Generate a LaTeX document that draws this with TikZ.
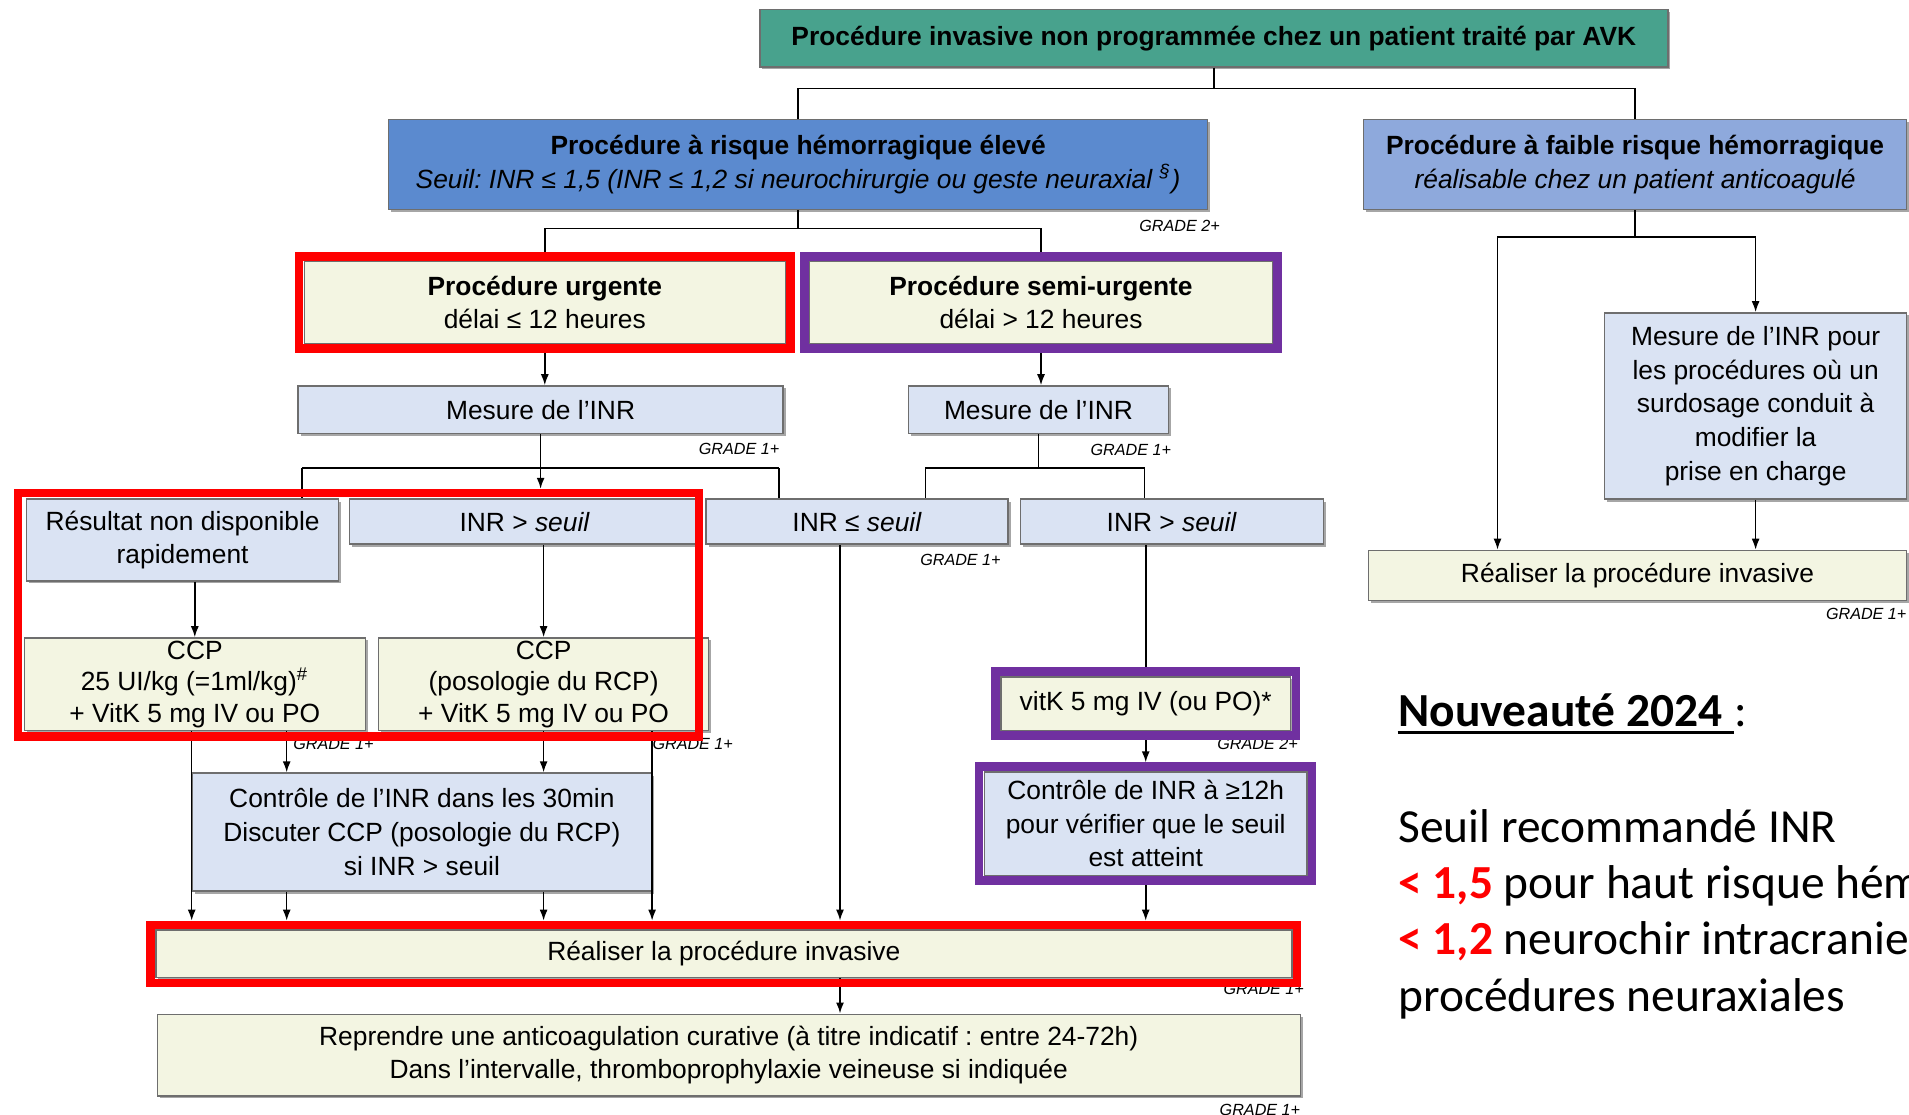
\documentclass[tikz,border=0pt]{standalone}
\usepackage{fontspec}
\setmainfont{Liberation Sans}
\newfontfamily\notefont{Carlito}
\usepackage{tikz}
\usetikzlibrary{fit,calc,positioning,arrows.meta,shadows}
\usepackage{color}
\frenchspacing
\definecolor{tealhead}{RGB}{72,162,141}
\definecolor{bluehigh}{RGB}{91,138,207}
\definecolor{bluelow}{RGB}{142,169,220}
\definecolor{creamfill}{RGB}{243,245,226}
\definecolor{palefill}{RGB}{218,227,243}
\definecolor{bordgray}{RGB}{110,110,110}
\definecolor{purpfr}{RGB}{112,48,160}
\tikzset{
node distance=1cm, % on grid: centre to centre
boxb/.style={rectangle, draw=bordgray, line width=0.4pt, inner sep=0pt, align=center,
  font=\fontsize{7.5}{9.6}\selectfont,
  drop shadow={shadow xshift=0.25mm, shadow yshift=-0.25mm, fill=black, opacity=0.35}},
cbox/.style={boxb, fill=creamfill},
pbox/.style={boxb, fill=palefill},
grade/.style={anchor=north east, inner sep=0pt, font=\fontsize{4.6}{5}\selectfont\itshape},
redfr/.style={draw=red, line width=0.85mm, inner sep=0.45mm},
purfr/.style={draw=purpfr, line width=0.85mm, inner sep=0.45mm},
note/.style={anchor=base west, inner sep=0pt, font=\notefont\fontsize{13.5}{16}\selectfont},
}

\begin{document}
\begin{tikzpicture}[on grid, line width=0.45pt, >={Latex[length=1.1mm,width=0.8mm]}]
\useasboundingbox (0,0) rectangle (190.9mm,-111.5mm);
% headers
\node[boxb, fill=tealhead, minimum width=90.8mm, minimum height=5.72mm,
  font=\fontsize{7.5}{9.6}\selectfont\bfseries] (top) at (121.38mm,-3.84mm)
  {Procédure invasive non programmée chez un patient traité par AVK};
\node[boxb, fill=bluehigh, minimum width=81.9mm, minimum height=9.01mm] (haut) [below left=12.6mm and 41.57mm of top]
  {\textbf{Procédure à risque hémorragique élevé}\\\textit{Seuil: INR ≤ 1,5 (INR ≤ 1,2 si neurochirurgie ou geste neuraxial \textsuperscript{§})}};
\node[boxb, fill=bluelow, minimum width=54.3mm, minimum height=9.01mm] (faible) [right=83.7mm of haut]
  {\textbf{Procédure à faible risque hémorragique}\\\textit{réalisable chez un patient anticoagulé}};
% urgent / semi-urgent
\node[cbox, minimum width=48.1mm, minimum height=8.16mm] (urg) [below left=13.81mm and 25.33mm of haut]
  {\textbf{Procédure urgente}\\délai ≤ 12 heures};
\node[cbox, minimum width=46.3mm, minimum height=8.16mm] (semi) [right=49.62mm of urg]
  {\textbf{Procédure semi-urgente}\\délai > 12 heures};
\node[pbox, minimum width=48.5mm, minimum height=4.75mm] (mes1) [below left=10.72mm and 0.42mm of urg] {Mesure de l'INR};
\node[pbox, minimum width=26.05mm, minimum height=4.75mm] (mes2) [below left=10.72mm and 0.25mm of semi] {Mesure de l'INR};
\node[pbox, minimum width=35.06mm, minimum height=4.5mm] (inrA) [below left=11.2mm and 1.59mm of mes1] {INR > \textit{seuil}};
\node[pbox, minimum width=31.17mm, minimum height=8.16mm] (res) [below left=1.83mm and 34.21mm of inrA]
  {Résultat non disponible\\rapidement};
\node[pbox, minimum width=30.19mm, minimum height=4.5mm] (inrB) [right=33.24mm of inrA] {INR ≤ \textit{seuil}};
\node[pbox, minimum width=30.32mm, minimum height=4.5mm] (inrC) [right=31.47mm of inrB] {INR > \textit{seuil}};
\node[cbox, minimum width=34.09mm, minimum height=9.25mm, font=\fontsize{7.5}{9}\selectfont] (ccp1) [below right=14.42mm and 1.22mm of res]
  {CCP\\25 UI/kg (=1ml/kg)\textsuperscript{\#}\\+ VitK 5 mg IV ou PO};
\node[cbox, minimum width=33mm, minimum height=9.25mm, font=\fontsize{7.5}{9}\selectfont] (ccp2) [right=34.88mm of ccp1]
  {CCP\\(posologie du RCP)\\+ VitK 5 mg IV ou PO};
\node[pbox, minimum width=45.9mm, minimum height=11.81mm] (ctl1) [below left=14.79mm and 12.17mm of ccp2]
  {Contrôle de l'INR dans les 30min\\Discuter CCP (posologie du RCP)\\si INR > seuil};
\node[cbox, minimum width=28.98mm, minimum height=5.36mm] (vitk) [below left=18.2mm and 2.61mm of inrC] {vitK 5 mg IV (ou PO)*};
\node[pbox, minimum width=32.26mm, minimum height=10.35mm] (ctl2) [below=11.99mm of vitk]
  {Contrôle de INR à ≥12h\\pour vérifier que le seuil\\est atteint};
\node[cbox, minimum width=113.6mm, minimum height=4.75mm] (real1) [below right=12.18mm and 30.19mm of ctl1] {Réaliser la procédure invasive};
\node[cbox, minimum width=114.3mm, minimum height=8.16mm] (rep) [below right=10.11mm and 0.49mm of real1]
  {Reprendre une anticoagulation curative (à titre indicatif : entre 24-72h)\\Dans l'intervalle, thromboprophylaxie veineuse si indiquée};
% low risk branch
\node[pbox, minimum width=30.19mm, minimum height=18.63mm] (mesP) [below right=24.16mm and 12.05mm of faible]
  {Mesure de l'INR pour\\les procédures où un\\surdosage conduit à\\modifier la\\prise en charge};
\node[cbox, minimum width=53.8mm, minimum height=4.99mm] (real2) [below right=41.09mm and 0.24mm of faible] {Réaliser la procédure invasive};

% grades
\node[grade] (g1) at ([xshift=1.22mm,yshift=-0.97mm]haut.south east) {GRADE 2+};
\node[grade] (g2) at ([xshift=-0.37mm,yshift=-0.85mm]mes1.south east) {GRADE 1+};
\node[grade] (g3) at ([xshift=0.24mm,yshift=-0.97mm]mes2.south east) {GRADE 1+};
\node[grade] (g4) at ([xshift=-0.73mm,yshift=-0.85mm]inrB.south east) {GRADE 1+};
\node[grade] (g5) at ([xshift=0.85mm,yshift=-0.6mm]ccp1.south east) {GRADE 1+};
\node[grade] (g6) at ([xshift=2.44mm,yshift=-0.6mm]ccp2.south east) {GRADE 1+};
\node[grade] (g7) at ([xshift=0.73mm,yshift=-0.6mm]vitk.south east) {GRADE 2+};
\node[grade] (g8) at ([xshift=1.22mm,yshift=-0.37mm]real1.south east) {GRADE 1+};
\node[grade] (g9) at ([yshift=-0.73mm]rep.south east) {GRADE 1+};
\node[grade] (g10) at ([yshift=-0.61mm]real2.south east) {GRADE 1+};

% connectors
\coordinate (j0) at ([yshift=-2.07mm]top.south);
\draw (top) -- (j0) -| (haut);
\draw (j0) -| (faible);
\coordinate (j1) at ([yshift=-1.83mm]haut.south);
\draw (haut) -- (j1) -| (urg);
\draw (j1) -| (semi);
\draw[->] (urg.south) -- (urg.south |- mes1.north);
\draw[->] (semi.south) -- (semi.south |- mes2.north);

\coordinate (j2l) at ([xshift=-23.86mm,yshift=-3.41mm]mes1.south);
\coordinate (j2r) at ([xshift=23.86mm,yshift=-3.41mm]mes1.south);
\draw (j2l) -- (j2r);
\draw (j2l) -- (j2l |- res.north);
\draw (j2r) -- (j2r |- inrB.north);
\draw[->, shorten >=0.97mm] (mes1) -- (mes1.south |- inrA.north);

\coordinate (j3) at ([yshift=-3.41mm]mes2.south);
\coordinate (j3l) at ([xshift=-11.32mm]j3);
\coordinate (j3r) at ([xshift=10.6mm]j3);
\draw (mes2) -- (j3);
\draw (j3l) -- (j3r);
\draw (j3l) -- (j3l |- inrB.north);
\draw (j3r) -- (j3r |- inrC.north);

\draw[->] (ccp1.north |- res.south) -- (ccp1);
\draw[->] (ccp2.north |- inrA.south) -- (ccp2);
\coordinate (k1) at ([xshift=9.5mm]ctl1.north west);
\draw[->] (k1 |- ccp1.south) -- (k1);
\draw[->] (ccp2) -- (ccp2.south |- ctl1.north);
\draw[->, shorten >=0.88mm] (ctl1.west |- ccp1.south) -- (ctl1.west |- real1.north);
\draw[->, shorten >=0.88mm] (ctl1.east |- ccp2.south) -- (ctl1.east |- real1.north);
\draw[->, shorten >=0.88mm] (k1 |- ctl1.south) -- (k1 |- real1.north);
\draw[->, shorten >=0.88mm] (ccp2.south |- ctl1.south) -- (ccp2.south |- real1.north);

\coordinate (k2) at ([xshift=-1.71mm]inrB.south);
\draw[->, shorten >=0.88mm] (k2) -- (k2 |- real1.north);
\draw[->] (k2 |- real1.south) -- (k2 |- rep.north);

\draw (vitk.north |- inrC.south) -- (vitk);
\draw[->, shorten >=0.88mm] (vitk) -- (ctl2);
\draw[->, shorten >=0.88mm] (ctl2) -- (ctl2.south |- real1.north);

\coordinate (j4) at ([yshift=-2.68mm]faible.south);
\coordinate (j4l) at ([xshift=-13.76mm]j4);
\draw (faible) -- (j4);
\draw[->] (j4) -| (mesP);
\draw[->] (j4) -| (j4l |- real2.north);
\draw[->] (mesP) -- (mesP.south |- real2.north);

% highlight frames
\node[redfr, fit=(urg)] (urgfr) {};
\node[purfr, fit=(semi)] (semifr) {};
\node[purfr, fit=(vitk)] (vitkfr) {};
\node[purfr, fit=(ctl2)] (ctl2fr) {};
\node[redfr, fit=(real1)] (real1fr) {};
\draw[redfr] ($(res.west |- inrA.north)+(-0.79mm,0.55mm)$) rectangle ($(inrA.east |- ccp1.south)+(-0.18mm,-0.55mm)$);

% note on the right
\node[note] (n1) at (139.77mm,-72.68mm) {\textbf{Nouveauté 2024}\ \null};
\node (n1b) [right=0mm of n1.base east, note] {:};
\draw[line width=0.9pt] ([yshift=-0.6mm]n1.base west) -- ([yshift=-0.6mm]n1.base east);
\node (n2) [below=11.57mm of n1.base west, note] {Seuil recommandé INR};
\node (n3) [below=5.6mm of n2.base west, note] {\textcolor{red}{\textbf{< 1,5}} pour haut risque hém};
\node (n4) [below=5.6mm of n3.base west, note] {\textcolor{red}{\textbf{< 1,2}} neurochir intracranie};
\node (n5) [below=5.73mm of n4.base west, note] {procédures neuraxiales};
\end{tikzpicture}
\end{document}
